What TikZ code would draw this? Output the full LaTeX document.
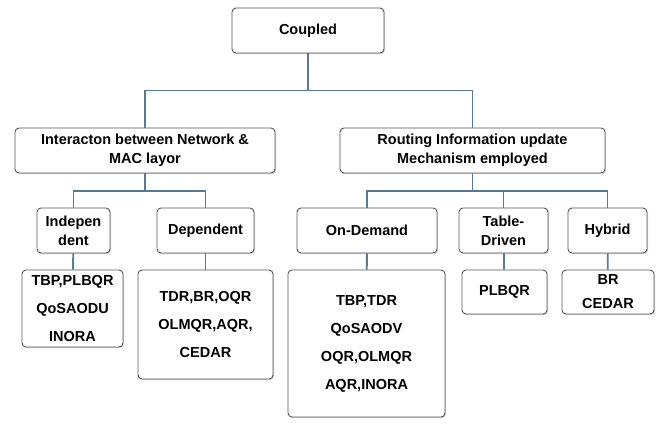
\documentclass[tikz,border=0pt]{standalone}
\usepackage{fontspec}
\setmainfont{Liberation Sans}
\usetikzlibrary{shadows}
\definecolor{clink}{HTML}{587A94}
\definecolor{cedge}{HTML}{555555}
\tikzset{
  every picture/.style={font=\bfseries\fontsize{14.5}{19}\selectfont},
  box/.style={draw=cedge, fill=white, rounded corners=4pt, align=center, inner sep=2pt, line width=0.9pt,
    drop shadow={shadow xshift=1pt, shadow yshift=-1.2pt, opacity=0.3, fill=black!60}},
  list/.style={box, font=\bfseries\fontsize{14.5}{28}\selectfont},
  link/.style={draw=clink, line width=1.8pt},
}

\begin{document}
\begin{tikzpicture}[x=1pt, y=-1pt]
  \useasboundingbox (0,0) rectangle (660,423);
  % root
  \node[box, minimum width=152pt, minimum height=45pt] (cpl) at (308,30.5) {Coupled};
  % first level
  \node[box, minimum width=260pt, minimum height=45pt] (mac) at (145,150.5) {Interacton between Network \&\\MAC layor};
  \node[box, minimum width=265pt, minimum height=45pt] (rim) at (472.5,150.5) {Routing Information update\\Mechanism employed};
  % second level
  \node[box, minimum width=73pt, minimum height=45pt] (ind) at (73.5,230.5) {Indepen\\dent};
  \node[box, minimum width=97pt, minimum height=45pt] (dep) at (205.5,230.5) {Dependent};
  \node[box, minimum width=140pt, minimum height=45pt] (ond) at (367,230.5) {On-Demand};
  \node[box, minimum width=89pt, minimum height=45pt] (tbl) at (503.5,230.5) {Table-\\Driven};
  \node[box, minimum width=79pt, minimum height=45pt] (hyb) at (607.5,230.5) {Hybrid};
  % protocol lists
  \node[list, minimum width=101pt, minimum height=77pt] (indl) at (72.5,308.5) {TBP,PLBQR\\QoSAODU\\INORA};
  \node[list, minimum width=135pt, minimum height=109pt] (depl) at (205.5,324.5) {TDR,BR,OQR\\OLMQR,AQR,\\CEDAR};
  \node[list, minimum width=157pt, minimum height=147pt] (ondl) at (366.5,343.5) {TBP,TDR\\QoSAODV\\OQR,OLMQR\\AQR,INORA};
  \node[list, minimum width=85pt, minimum height=44pt] (tbll) at (504.5,292) {PLBQR};
  \node[list, minimum width=92pt, minimum height=44pt, font=\bfseries\fontsize{14.5}{24}\selectfont] (hybl) at (608,292) {BR\\CEDAR};
  % connectors
  \draw[link] (cpl.south) -- ++(0,37) -| (mac.north);
  \draw[link] (cpl.south) -- ++(0,37) -| (rim.north);
  \draw[link] (mac.south) -- ++(0,17.5) -| (ind.north);
  \draw[link] (mac.south) -- ++(0,17.5) -| (dep.north);
  \draw[link] (rim.south) -- ++(0,17.5) -| (ond.north);
  \draw[link] (rim.south) -- ++(0,17.5) -| (tbl.north);
  \draw[link] (rim.south) -- ++(0,17.5) -| (hyb.north);
  \draw[link] (ind) -- (indl);
  \draw[link] (dep) -- (depl);
  \draw[link] (ond) -- (ondl);
  \draw[link] (tbl) -- (tbll);
  \draw[link] (hyb) -- (hybl);
\end{tikzpicture}
\end{document}
